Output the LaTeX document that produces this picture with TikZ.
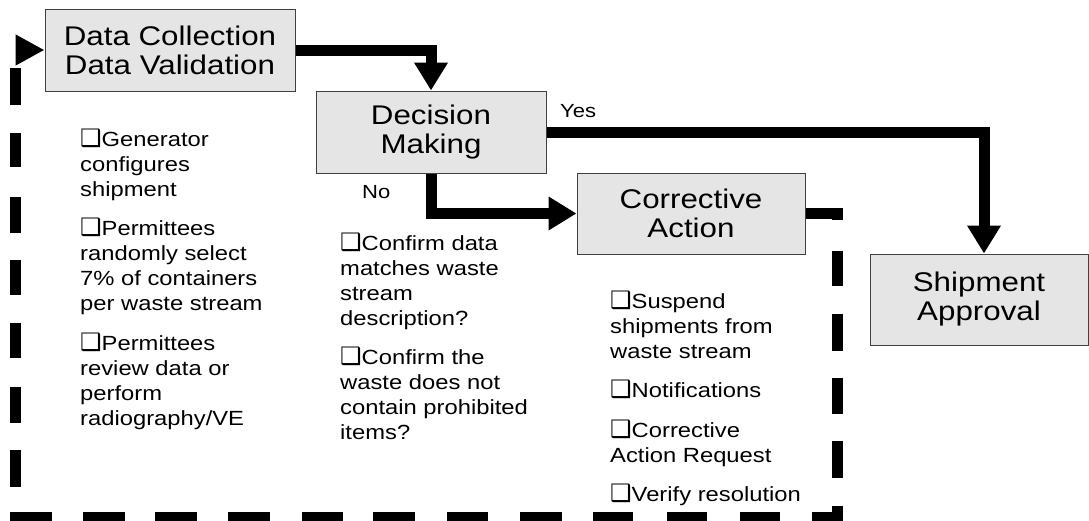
\documentclass[tikz,border=0pt]{standalone}
\usepackage{fontspec}
\setmainfont[FakeStretch=1.16]{Liberation Sans}
\newfontfamily\dvfont{DejaVu Sans}
\usetikzlibrary{arrows.meta}
\newcommand{\chk}{{\dvfont\fontsize{24}{24}\selectfont ❑}}
\newcommand{\btext}[1]{\parbox[t]{260pt}{\fontsize{20.5}{25}\selectfont\raggedright\setlength{\parskip}{14.5pt}#1}}
\begin{document}
\begin{tikzpicture}[x=1pt,y=-1pt,
  box/.style={draw=black!75, line width=1pt, fill=black!10, inner sep=0pt, align=center,
    font=\fontsize{27}{29}\selectfont},
  flow/.style={line width=11pt, -{Triangle[length=28pt,width=32pt]}},
  loopback/.style={line width=11pt, -{Triangle[length=29pt,width=29pt]},
    dash pattern=on 38pt off 30.5pt on 35pt off 28pt on 37pt off 27pt on 36pt off 27pt
      on 37pt off 28pt on 37pt off 32pt on 40pt off 33pt on 40pt off 34pt on 40pt off 31pt
      on 42pt off 32pt on 41pt off 32pt on 42pt off 30pt on 41pt off 32pt on 42pt off 31pt
      on 42pt off 30pt on 42pt off 31pt on 42pt off 25pt on 37pt off 27pt on 36pt off 29pt
      on 35pt off 28pt on 35pt off 27pt on 36pt off 30pt on 34pt off 28pt on 37pt off 100pt},
  lab/.style={inner sep=0pt, font=\fontsize{19}{19}\selectfont},
  items/.style={inner sep=0pt, anchor=base west}]
\useasboundingbox (0,0) rectangle (1089,520);

\node[box, minimum width=250pt, minimum height=82pt] (data) at (170,50) {Data Collection\\Data Validation};
\node[box, minimum width=230pt, minimum height=82pt] (dec) at (431,132) {Decision\\Making};
\node[box, minimum width=228pt, minimum height=81pt] (corr) at (691,213.5) {Corrective\\Action};
\node[box, minimum width=218pt, minimum height=91pt] (ship) at (979,299.5) {Shipment\\Approval};

\coordinate (shiptop) at ([xshift=5pt]ship.north);
\coordinate (br) at (837,517);
\coordinate (bl) at (15,517);

\draw[flow] (data.east) -| (dec.north);
\draw[flow] (dec.east) -| (shiptop);
\draw[flow] (dec.south) |- (corr.west);
\draw[loopback] (corr.east) -| (br) -- (bl) |- (data.west);

\node[lab, anchor=base west] (yes) at (560,117) {Yes};
\node[lab, anchor=base west] (no) at (362,198) {No};

\node[items] (t1) at (80,146) {\btext{\chk Generator\\configures\\shipment\par
\chk Permittees\\randomly select\\7\% of containers\\per waste stream\par
\chk Permittees\\review data or\\perform\\radiography/VE}};

\node[items] (t2) at (340,250) {\btext{\chk Confirm data\\matches waste\\stream\\description?\par
\chk Confirm the\\waste does not\\contain prohibited\\items?}};

\node[items] (t3) at (610,308) {\btext{\chk Suspend\\shipments from\\waste stream\par
\chk Notifications\par
\chk Corrective\\Action Request\par
\chk Verify resolution}};
\end{tikzpicture}
\end{document}
